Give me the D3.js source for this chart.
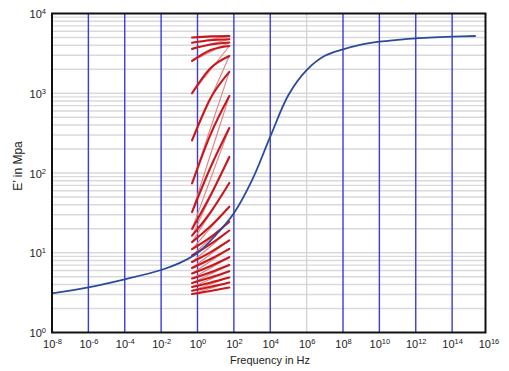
<!DOCTYPE html>
<html>
<head>
<meta charset="utf-8">
<script src="https://cdn.jsdelivr.net/npm/d3@7"></script>
<style>
  html, body { margin: 0; padding: 0; background: #fff; }
  svg { display: block; }
  text { font-family: "Liberation Sans", Arial, sans-serif; fill: #222; }
</style>
</head>
<body>
<svg id="chart" width="509" height="371"></svg>
<script>
// ---- data ----
const xTickExponents = [-8, -6, -4, -2, 0, 2, 4, 6, 8, 10, 12, 14, 16];
const yTickExponents = [0, 1, 2, 3, 4];
const xAxisTitle = "Frequency in Hz";
const yAxisTitle = "E\u2019 in Mpa";

// master curve (blue): log10 frequency and E' in MPa
const masterLogF = [-8, -6, -4, -2, -1, 0, 1, 2, 3, 4, 5, 6, 7, 8, 9, 10, 11, 12, 13, 14, 15.3];
const masterE    = [3.09, 3.69, 4.65, 6.08, 7.41, 9.93, 16.6, 31.3, 81.3, 285, 950, 1950, 2950, 3550, 4070, 4430, 4680, 4890, 5010, 5120, 5220];

// isotherm segments (red): E' at three frequencies, top (cold) to bottom (hot)
const isoLogF  = [-0.3, 0.725, 1.75];
const isoLeft  = [5000, 4300, 3600, 2540, 1000, 256, 73.9, 32.4, 19.9, 16.4, 13.6, 11.1, 9.24, 7.66, 6.44, 5.50, 4.75, 4.18, 3.72, 3.34, 3.04];
const isoMid   = [5160, 4620, 4080, 3485, 2073, 872, 308, 119, 53, 32.4, 21.6, 15.7, 12.9, 10.2, 8.35, 6.82, 5.70, 4.89, 4.24, 3.74, 3.32];
const isoRight = [5200, 4750, 4330, 3915, 2930, 1855, 924, 366, 159, 75, 37.8, 24.5, 19.0, 14.3, 11.2, 8.80, 7.02, 5.85, 4.89, 4.24, 3.67];

// ---- drawing ----
const svg = d3.select("#chart");
const pL = 52, pR = 485.5, pT = 13.5, pB = 332.5;

const x = d3.scaleLog().domain([1e-8, 1e16]).range([52, 488.5]);
const y = d3.scaleLog().domain([1, 1e4]).range([pB, pT]);

// horizontal gray grid (minor + decade lines)
const hGrid = [];
for (let d = 0; d < 4; d++) {
  for (let k = 1; k <= 9; k++) {
    const v = k * Math.pow(10, d);
    if (v > 1) hGrid.push(v);
  }
}
svg.append("g").selectAll("line").data(hGrid).join("line")
  .attr("x1", pL).attr("x2", pR)
  .attr("y1", d => y(d)).attr("y2", d => y(d))
  .attr("stroke", "#d9d9d9").attr("stroke-width", 1.4);

// vertical grid lines (blue, except 10^6 which is gray)
const vGrid = xTickExponents.filter(e => e > -8 && e < 16);
svg.append("g").selectAll("line").data(vGrid).join("line")
  .attr("x1", d => x(Math.pow(10, d))).attr("x2", d => x(Math.pow(10, d)))
  .attr("y1", pT).attr("y2", pB)
  .attr("stroke", d => d === 6 ? "#d4d4d4" : "#3a3cd4")
  .attr("stroke-width", d => d === 6 ? 1.4 : 1.4);

// red isotherms
const isoLine = d3.line()
  .x(d => x(Math.pow(10, d[0])))
  .y(d => y(d[1]))
  .curve(d3.curveMonotoneX);

const isotherms = isoLeft.map((l, i) => [
  [isoLogF[0], l], [isoLogF[1], isoMid[i]], [isoLogF[2], isoRight[i]]
]);

// thin connectors from right end of one isotherm to left end of the next
const connectors = [];
for (let i = 0; i < isotherms.length - 1; i++) {
  connectors.push([[isoLogF[2], isoRight[i]], [isoLogF[0], isoLeft[i + 1]]]);
}
svg.append("g").selectAll("path").data(connectors).join("path")
  .attr("d", d3.line().x(d => x(Math.pow(10, d[0]))).y(d => y(d[1])))
  .attr("fill", "none")
  .attr("stroke", "#e38080")
  .attr("stroke-width", 1.1);

svg.append("g").selectAll("path").data(isotherms).join("path")
  .attr("d", isoLine)
  .attr("fill", "none")
  .attr("stroke", "#c8171d")
  .attr("stroke-width", 2.1)
  .attr("stroke-linecap", "round");

// blue master curve
const masterPts = masterLogF.map((f, i) => [f, masterE[i]]);
svg.append("path")
  .datum(masterPts)
  .attr("d", d3.line().x(d => x(Math.pow(10, d[0]))).y(d => y(d[1])).curve(d3.curveCatmullRom.alpha(0.5)))
  .attr("fill", "none")
  .attr("stroke", "#2c4a9c")
  .attr("stroke-width", 1.8);

// frame
svg.append("rect")
  .attr("x", pL).attr("y", pT)
  .attr("width", pR - pL).attr("height", pB - pT)
  .attr("fill", "none").attr("stroke", "#111").attr("stroke-width", 2);

// x axis
const xAxis = d3.axisBottom(x)
  .tickValues(xTickExponents.map(e => Math.pow(10, e)))
  .tickSize(0).tickPadding(0).tickFormat(() => "");
const gx = svg.append("g").attr("transform", `translate(0,${pB})`).call(xAxis);
gx.select(".domain").remove();
gx.selectAll(".tick text").remove();
gx.selectAll(".tick").each(function(d, i) {
  const t = d3.select(this).append("text")
    .attr("y", 15.5).attr("text-anchor", "middle")
    .attr("font-size", 11).attr("fill", "#222");
  t.append("tspan").text("10");
  t.append("tspan").attr("dy", -4).attr("font-size", 7.5).text(String(xTickExponents[i]));
});

// y axis
const yAxis = d3.axisLeft(y)
  .tickValues(yTickExponents.map(e => Math.pow(10, e)))
  .tickSize(0).tickPadding(0).tickFormat(() => "");
const gy = svg.append("g").attr("transform", `translate(${pL},0)`).call(yAxis);
gy.select(".domain").remove();
gy.selectAll(".tick text").remove();
gy.selectAll(".tick").each(function(d, i) {
  const t = d3.select(this).append("text")
    .attr("x", -6).attr("y", 4).attr("text-anchor", "end")
    .attr("font-size", 11).attr("fill", "#222");
  t.append("tspan").text("10");
  t.append("tspan").attr("dy", -4).attr("font-size", 7.5).text(String(yTickExponents[i]));
});

// axis titles
svg.append("text")
  .attr("x", 270).attr("y", 363.5)
  .attr("text-anchor", "middle").attr("font-size", 11)
  .text(xAxisTitle);

svg.append("text")
  .attr("transform", "translate(21.5,166) rotate(-90)")
  .attr("text-anchor", "middle").attr("font-size", 12)
  .text(yAxisTitle);
</script>
</body>
</html>
